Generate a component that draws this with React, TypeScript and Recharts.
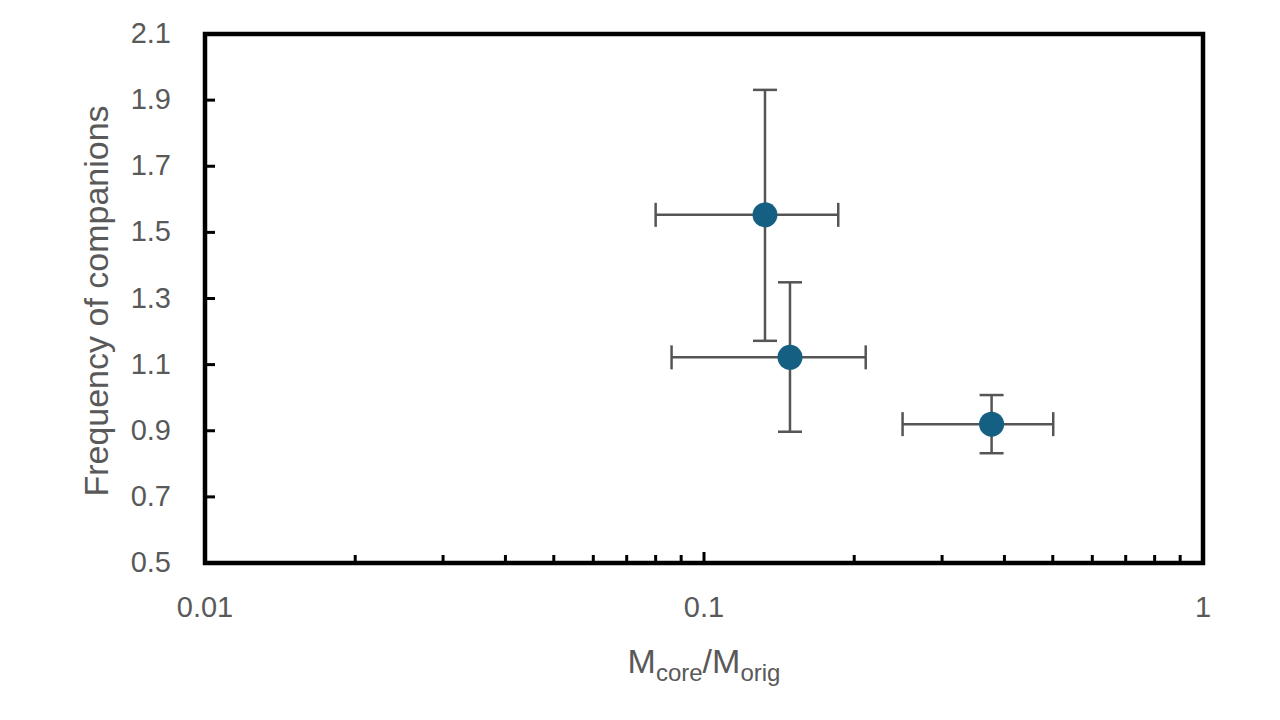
import { ScatterChart, Scatter, XAxis, YAxis, ErrorBar, ReferenceArea } from 'recharts'

// values (x on log scale)
const massRatio = [0.1325, 0.1487, 0.377]
const massErrLow = [0.0525, 0.0626, 0.127]
const massErrHigh = [0.0533, 0.0622, 0.124]
const companionFreq = [1.553, 1.122, 0.92]
const freqErrLow = [0.381, 0.225, 0.088]
const freqErrHigh = [0.378, 0.227, 0.088]

const xTicks = [
  0.01, 0.02, 0.03, 0.04, 0.05, 0.06, 0.07, 0.08, 0.09,
  0.1, 0.2, 0.3, 0.4, 0.5, 0.6, 0.7, 0.8, 0.9, 1,
]
const xMajorTicks = [0.01, 0.1, 1]
const yTicks = [0.5, 0.7, 0.9, 1.1, 1.3, 1.5, 1.7, 1.9, 2.1]

const points = massRatio.map((x, i) => ({
  x,
  y: companionFreq[i],
  ex: [massErrLow[i], massErrHigh[i]],
  ey: [freqErrLow[i], freqErrHigh[i]],
}))

const FONT = '"Liberation Sans", Arial, sans-serif'
const TEXT = '#595959'
const X_MARGIN = 54
const Y_MARGIN = 34

function XTick(props: any) {
  const { x, y, payload } = props
  const v = payload.value
  const major = xMajorTicks.some(m => Math.abs(m - v) < 1e-9)
  const axisY = y - X_MARGIN
  return (
    <g>
      <line x1={x} x2={x} y1={axisY} y2={axisY - (major ? 11 : 8)} stroke="#000" strokeWidth={3} />
      {major && (
        <text x={x} y={y} textAnchor="middle" fill={TEXT} fontSize={29} fontFamily={FONT}>
          {String(v)}
        </text>
      )}
    </g>
  )
}

function YTick(props: any) {
  const { x, y, payload } = props
  const axisX = x + Y_MARGIN
  return (
    <g>
      <line x1={axisX} x2={axisX + 10} y1={y} y2={y} stroke="#000" strokeWidth={3} />
      <text x={x} y={y + 9} textAnchor="end" fill={TEXT} fontSize={29} fontFamily={FONT}>
        {payload.value.toFixed(1)}
      </text>
    </g>
  )
}

export default function App() {
  return (
    <div style={{ position: 'absolute', left: 0, top: 0, width: 1280, height: 720, background: '#fff' }}>
      <ScatterChart width={1280} height={720} margin={{ top: 34, right: 77, left: 0, bottom: 57 }}>
        <XAxis
          type="number"
          dataKey="x"
          scale="log"
          domain={[0.01, 1]}
          ticks={xTicks}
          interval={0}
          allowDataOverflow
          height={100}
          tickSize={0}
          tickMargin={X_MARGIN}
          tickLine={false}
          axisLine={false}
          tick={<XTick />}
          label={{
            position: 'insideBottom',
            content: () => (
              <text x={704} y={673} textAnchor="middle" fill={TEXT} fontSize={34} fontFamily={FONT}>
                <tspan>M</tspan>
                <tspan fontSize={24} dy={8}>core</tspan>
                <tspan dy={-8}>/M</tspan>
                <tspan fontSize={24} dy={8}>orig</tspan>
              </text>
            ),
          }}
        />
        <YAxis
          type="number"
          dataKey="y"
          domain={[0.5, 2.1]}
          ticks={yTicks}
          interval={0}
          allowDataOverflow
          width={205}
          tickSize={0}
          tickMargin={Y_MARGIN}
          tickLine={false}
          axisLine={false}
          tick={<YTick />}
          label={{
            position: 'insideLeft',
            content: () => (
              <text
                x={108}
                y={301}
                transform="rotate(-90, 108, 301)"
                textAnchor="middle"
                fill={TEXT}
                fontSize={34}
                fontFamily={FONT}
              >
                Frequency of companions
              </text>
            ),
          }}
        />
        <ReferenceArea
          x1={0.01}
          x2={1}
          y1={0.5}
          y2={2.1}
          fill="none"
          fillOpacity={0}
          stroke="#000"
          strokeWidth={4.5}
          ifOverflow="visible"
        />
        <Scatter
          data={points}
          dataKey="y"
          fill="#156082"
          isAnimationActive={false}
          shape={(p: any) => <circle cx={p.cx} cy={p.cy} r={12.5} fill="#156082" />}
        >
          <ErrorBar dataKey="ex" direction="x" stroke="#555" strokeWidth={2.5} width={12} isAnimationActive={false} />
          <ErrorBar dataKey="ey" direction="y" stroke="#555" strokeWidth={2.5} width={12} isAnimationActive={false} />
        </Scatter>
      </ScatterChart>
    </div>
  )
}
